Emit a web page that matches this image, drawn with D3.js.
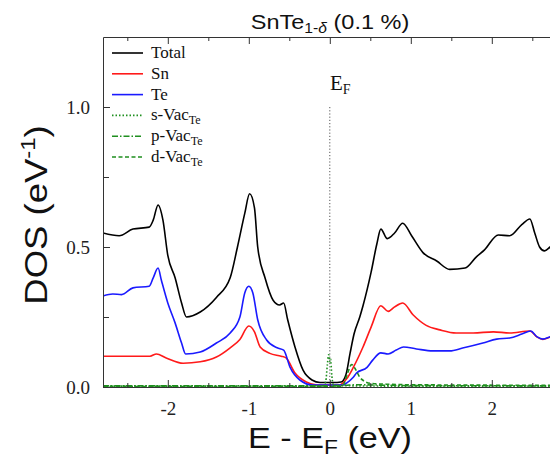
<!DOCTYPE html>
<html>
<head>
<meta charset="utf-8">
<script src="https://cdn.jsdelivr.net/npm/d3@7"></script>
<style>
  html, body { margin: 0; padding: 0; background: #fff; }
  svg { display: block; }
</style>
</head>
<body>
<svg id="chart" width="550" height="459"></svg>
<script>
// ---------------- data ----------------
const totalE   = [-2.8,-2.6,-2.43,-2.23,-2.18,-2.12,-2.06,-2.0,-1.91,-1.83,-1.77,-1.6,-1.4,-1.23,-1.14,-1.05,-0.99,-0.93,-0.89,-0.8,-0.7,-0.62,-0.57,-0.52,-0.43,-0.33,-0.22,-0.12,0.04,0.14,0.2,0.25,0.3,0.37,0.41,0.51,0.58,0.63,0.71,0.8,0.9,1.01,1.15,1.32,1.48,1.67,1.81,1.91,2.08,2.22,2.37,2.47,2.53,2.59,2.65,2.72,2.8];
const totalDOS = [0.55,0.54,0.564,0.571,0.596,0.65,0.596,0.47,0.39,0.30,0.25,0.268,0.32,0.39,0.50,0.62,0.69,0.64,0.50,0.39,0.31,0.293,0.30,0.24,0.143,0.06,0.025,0.016,0.016,0.018,0.045,0.12,0.19,0.25,0.29,0.41,0.51,0.564,0.53,0.55,0.585,0.54,0.48,0.45,0.42,0.425,0.465,0.49,0.543,0.54,0.58,0.60,0.55,0.50,0.486,0.50,0.52];

const snE   = [-2.8,-2.22,-2.14,-2.02,-1.81,-1.6,-1.4,-1.23,-1.11,-1.0,-0.93,-0.86,-0.74,-0.6,-0.54,-0.43,-0.29,-0.16,0.12,0.21,0.29,0.41,0.51,0.63,0.72,0.8,0.9,1.03,1.19,1.36,1.56,1.77,2.02,2.22,2.47,2.56,2.63,2.72,2.8];
const snDOS = [0.11,0.11,0.118,0.104,0.085,0.09,0.107,0.14,0.17,0.218,0.197,0.143,0.12,0.11,0.104,0.05,0.018,0.007,0.007,0.03,0.07,0.143,0.214,0.29,0.27,0.286,0.30,0.257,0.22,0.204,0.193,0.193,0.197,0.193,0.2,0.178,0.17,0.178,0.185];

const teE   = [-2.8,-2.68,-2.57,-2.43,-2.23,-2.18,-2.12,-2.08,-2.0,-1.91,-1.83,-1.78,-1.6,-1.4,-1.23,-1.11,-1.05,-1.0,-0.95,-0.89,-0.78,-0.65,-0.57,-0.49,-0.37,-0.21,0.16,0.21,0.29,0.33,0.46,0.53,0.63,0.72,0.82,0.91,1.07,1.27,1.48,1.64,1.89,2.06,2.22,2.37,2.48,2.56,2.63,2.72,2.8];
const teDOS = [0.325,0.332,0.33,0.354,0.36,0.39,0.425,0.382,0.30,0.229,0.157,0.118,0.125,0.157,0.193,0.25,0.336,0.36,0.336,0.24,0.168,0.14,0.132,0.07,0.025,0.007,0.007,0.015,0.035,0.05,0.07,0.096,0.122,0.118,0.132,0.143,0.136,0.129,0.129,0.139,0.157,0.171,0.175,0.189,0.2,0.179,0.171,0.179,0.185];

const sVacE   = [-2.8,-2.0,-1.0,-0.08,-0.05,-0.03,-0.015,0.0,0.01,0.025,0.05,1.0,2.0,2.8];
const sVacDOS = [0.003,0.003,0.003,0.003,0.02,0.08,0.115,0.09,0.10,0.04,0.005,0.003,0.003,0.003];

const pVacE   = [-2.8,-1.0,0.0,0.2,0.3,1.0,2.8];
const pVacDOS = [0.004,0.004,0.004,0.006,0.008,0.005,0.004];

const dVacE   = [-2.8,0.12,0.17,0.22,0.27,0.32,0.37,0.43,0.5,0.7,1.0,2.8];
const dVacDOS = [0.002,0.002,0.01,0.05,0.08,0.062,0.035,0.02,0.013,0.01,0.008,0.006];

const xMajorTicks = [-2,-1,0,1,2];
const xMinorTicks = [-2.5,-1.5,-0.5,0.5,1.5,2.5];
const yMajorTicks = [0.0,0.5,1.0];
const yMinorTicks = [0.25,0.75];

const legendLabels = ["Total","Sn","Te","s-Vac","p-Vac","d-Vac"];
const legendSubs   = ["","","","Te","Te","Te"];
const seriesColors = ["#000000","#ff1a1a","#1a1aff","#1f8f1f","#1f8f1f","#1f8f1f"];
const seriesDash   = [null,null,null,"1.5,2","6,2,1.5,2","4,2.5"];

// ---------------- drawing ----------------
const svg = d3.select("#chart");
const x = d3.scaleLinear().domain([-2.8, 3.0]).range([103, 103 + 5.8 * 81]);
const y = d3.scaleLinear().domain([0, 1.25]).range([387, 37]);

const serif = "'Liberation Serif','Times New Roman',serif";
const sans  = "'Liberation Sans',Arial,Helvetica,sans-serif";
const axisColor = "#333";

svg.append("clipPath").attr("id","plotclip")
  .append("rect").attr("x",103).attr("y",37).attr("width",500).attr("height",352);

const series = [
  [totalE,totalDOS],[snE,snDOS],[teE,teDOS],[sVacE,sVacDOS],[pVacE,pVacDOS],[dVacE,dVacDOS]
];
const line = d3.line().x(d=>x(d[0])).y(d=>y(d[1])).curve(d3.curveMonotoneX);

// Fermi level dotted line
svg.append("line")
  .attr("x1",x(0)).attr("x2",x(0)).attr("y1",y(1.0)).attr("y2",y(0))
  .attr("stroke","#555").attr("stroke-width",1).attr("stroke-dasharray","1.2,2");

const g = svg.append("g").attr("clip-path","url(#plotclip)");
series.forEach((s,i)=>{
  const pts = s[0].map((e,j)=>[e, s[1][j]]);
  g.append("path").datum(pts)
    .attr("d", line)
    .attr("fill","none")
    .attr("stroke", seriesColors[i])
    .attr("stroke-width", 1.6)
    .attr("stroke-dasharray", seriesDash[i]);
});

// axes
function styleAxis(sel){
  sel.selectAll("path").attr("stroke",axisColor);
  sel.selectAll("line").attr("stroke",axisColor);
  sel.selectAll("text").attr("font-family",serif).attr("font-size",19).attr("fill","#222");
}
const axBottom = svg.append("g").attr("transform","translate(0,387)")
  .call(d3.axisBottom(x).tickValues(xMajorTicks).tickFormat(d=>String(d))
        .tickSizeInner(-7).tickSizeOuter(0).tickPadding(14.5));
styleAxis(axBottom);
const axBottomMinor = svg.append("g").attr("transform","translate(0,387)")
  .call(d3.axisBottom(x).tickValues(xMinorTicks).tickFormat("").tickSizeInner(-4).tickSizeOuter(0));
styleAxis(axBottomMinor); axBottomMinor.select("path").remove();

const axTop = svg.append("g").attr("transform","translate(0,37)")
  .call(d3.axisTop(x).tickValues(xMajorTicks).tickFormat("").tickSizeInner(-7).tickSizeOuter(0));
styleAxis(axTop);
const axTopMinor = svg.append("g").attr("transform","translate(0,37)")
  .call(d3.axisTop(x).tickValues(xMinorTicks).tickFormat("").tickSizeInner(-4).tickSizeOuter(0));
styleAxis(axTopMinor); axTopMinor.select("path").remove();

const axLeft = svg.append("g").attr("transform","translate(103,0)")
  .call(d3.axisLeft(y).tickValues(yMajorTicks).tickFormat(d3.format(".1f"))
        .tickSizeInner(-7).tickSizeOuter(0).tickPadding(13));
styleAxis(axLeft);
axLeft.selectAll("text").attr("dy","0.36em");
const axLeftMinor = svg.append("g").attr("transform","translate(103,0)")
  .call(d3.axisLeft(y).tickValues(yMinorTicks).tickFormat("").tickSizeInner(-6).tickSizeOuter(0));
styleAxis(axLeftMinor); axLeftMinor.select("path").remove();

// title
const title = svg.append("text")
  .attr("transform","translate(330,29) scale(1.12,1)")
  .attr("text-anchor","middle").attr("font-family",sans).attr("font-size",21).attr("fill","#111");
title.append("tspan").text("SnTe");
title.append("tspan").attr("font-size",14).attr("dy",4).text("1-");
title.append("tspan").attr("font-size",14).attr("font-style","italic").text("δ");
title.append("tspan").attr("dy",-4).text(" (0.1 %)");

// x label
const xl = svg.append("text")
  .attr("transform","translate(330,448) scale(1.14,1)")
  .attr("text-anchor","middle").attr("font-family",sans).attr("font-size",30).attr("fill","#111");
xl.append("tspan").text("E - E");
xl.append("tspan").attr("font-size",20).attr("dy",6).text("F");
xl.append("tspan").attr("dy",-6).text(" (eV)");

// y label
const yl = svg.append("text")
  .attr("transform","translate(47,215) rotate(-90) scale(1.14,1)")
  .attr("text-anchor","middle").attr("font-family",sans).attr("font-size",32).attr("fill","#111");
yl.append("tspan").text("DOS (eV");
yl.append("tspan").attr("font-size",21).attr("dy",-12).text("-1");
yl.append("tspan").attr("dy",12).text(")");

// E_F label
const ef = svg.append("text").attr("x",330).attr("y",90)
  .attr("font-family",serif).attr("font-size",21).attr("fill","#111");
ef.append("tspan").text("E");
ef.append("tspan").attr("font-size",14).attr("dy",4).text("F");

// legend
const legY0 = 53, legDy = 20.8;
legendLabels.forEach((lab,i)=>{
  const yy = legY0 + i*legDy;
  svg.append("line").attr("x1",112).attr("x2",143).attr("y1",yy).attr("y2",yy)
    .attr("stroke",seriesColors[i]).attr("stroke-width",1.6)
    .attr("stroke-dasharray",seriesDash[i]);
  const t = svg.append("text").attr("x",151).attr("y",yy+5)
    .attr("font-family",serif).attr("font-size",17).attr("fill","#111");
  t.append("tspan").text(lab);
  if (legendSubs[i]) t.append("tspan").attr("font-size",12).attr("dy",4).text(legendSubs[i]);
});
</script>
</body>
</html>
